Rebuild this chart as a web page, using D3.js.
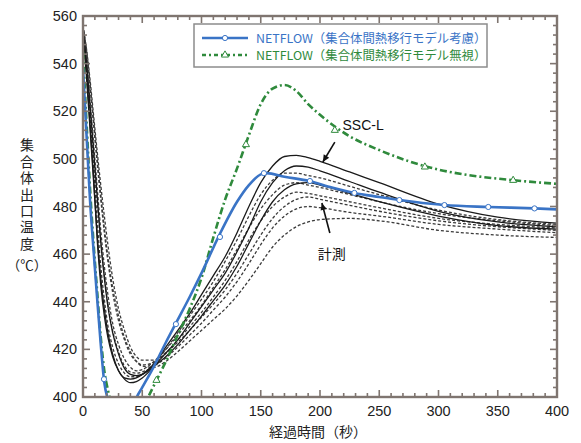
<!DOCTYPE html>
<html><head><meta charset="utf-8">
<script src="https://cdn.jsdelivr.net/npm/d3@7"></script>
<style>
body{margin:0;background:#fff;}
svg{display:block;}
text{font-family:"Liberation Sans","Noto Sans CJK JP",sans-serif;}
.jp{font-family:"Noto Sans CJK JP",sans-serif;}
</style></head>
<body><svg id="c" width="581" height="443"></svg>
<script>
// ---------- data ----------
const xTicks = [0,50,100,150,200,250,300,350,400];
const yTicks = [400,420,440,460,480,500,520,540,560];

const blueT = [0,3,6,9,12,15,18,21,25,30,35,40,45,50,60,70,78,90,100,115,130,140,150,155,170,191,210,229,250,267,305,342,381,400];
const blueV = [538,510,482,461,441,422,406,399,393,388,388,392,399.5,404,413,423,430.6,442,452,468,482,489,493.5,494,492.5,490.7,488,485.7,484,482.7,480.6,479.8,479.2,478.8];
const blueMarkT = [17.7,78.4,115.6,152.7,191.5,229,267,305,342,381];
const blueMarkV = [407.5,430.6,467.2,494,490.7,485.7,482.7,480.6,479.8,479.2];

const greenT = [0,3,6,9,12,15,18,21,24,30,35,40,45,50,55,60,70,80,90,100,110,120,130,140,150,160,170,180,190,200,225,250,275,300,325,350,375,400];
const greenV = [545,515,487,464,444,425,411,403,397,390,388,389,392,396,400,405,415,426,437,450,467,483,496,510,523,529.5,531,528.5,523,518.5,509.5,503.7,499,495.5,493.2,491.7,490.5,489.5];
const greenMarkT = [62,137.5,212.5,288.5,363];
const greenMarkV = [407,506,512,496.6,491];

const measT = [0,3,6,9,12,15,18,21,25,30,35,40,45,50,60,70,80,90,100,110,120,130,140,150,160,170,180,190,200,225,250,300,350,400];
// SSC-L (solid)
const sscS1 = [555,536,514,492,466,447,434,425,417,411,408,407.5,408,409.5,414,421,428,435,443,451,459,469,480,490,497,501,501.5,500.5,499,494.5,490,481,475.5,473];
const sscS2 = [553,534,512,490,468,450,437,427,418,411,407.5,406,406.5,408,413,418.5,424,431,438,445,452,461,471,482,490,495,497,496.5,495,490.5,486,478,473.5,471.5];
const sscS3 = [554,540,522,503,484,465,450,438,427,418,412,409.5,409,409.5,413,417,422,428,434,440.5,447,455,464.5,474,482,487,489.5,490,489,485.5,482,476,472,470.5];
// 計測 (dashed)
const measD1 = [556,538,517,496,474,455,441,430,421,414,410,408.5,408.5,409.5,414,420,427,434,441,448.5,457,466,476,485,491,494,494,493,492,488.5,485,478.5,474.5,472.5];
const measD2 = [555,541,524,506,488,470,455,443,431,422,416,412.5,411,411.5,415,420,426,432,438.5,446,453.5,462,471,479,485,489,490,489,488,485,482,477,474,472];
const measD3 = [556,545,530,514,498,483,469,457,444,432,424,418,415,413.5,414.5,418.5,424,429.5,435.5,442,449,457,466,474,480,484,486,485.5,484.5,482,479.5,475,472.5,471];
const measD4 = [555,546,533,518,503,489,476,464,450,437,428,421,417,415.5,415.5,418.5,423,428,433.5,439,445,452,460,468,475,480,483,484,483,480.5,478,474,471.5,470];
const measD5 = [554,539,520,501,482,465,451,439,428,419,413,410.5,410,410.5,413,416.5,421,426,431,436.5,442,448.5,456,464,471,476,479,480,479.5,477.5,476,472.5,470.5,469];
const measD6 = [556,545,531,516,500,485,471,459,446,434,425,419,415,413,412.5,415,419,423.5,428,432.5,437,442.5,449,456,463,468,471.5,473.5,474.5,475,474,470,468,467];

const legendLabels = ["NETFLOW（集合体間熱移行モデル考慮）","NETFLOW（集合体間熱移行モデル無視）"];
const yTitle = "集合体出口温度";

// ---------- drawing ----------
const svg = d3.select("#c");
const L=83,R=557,T=16,B=397;
const x = d3.scaleLinear().domain([0,400]).range([L,R]);
const y = d3.scaleLinear().domain([400,560]).range([B,T]);

svg.append("defs").append("clipPath").attr("id","clip")
  .append("rect").attr("x",L).attr("y",T).attr("width",R-L).attr("height",B-T);

const g = svg.append("g").attr("clip-path","url(#clip)");
const line = d3.line().x(d=>x(d[0])).y(d=>y(d[1])).curve(d3.curveMonotoneX);
const zip = (a,b)=>a.map((v,i)=>[v,b[i]]);

const measured = [measD1,measD2,measD3,measD4,measD5,measD6];
measured.forEach(s=>{
  g.append("path").attr("d",line(zip(measT,s))).attr("fill","none")
   .attr("stroke","#3a3a3a").attr("stroke-width",1.3).attr("stroke-dasharray","3,2");
});
[sscS3,sscS2,sscS1].forEach(s=>{
  g.append("path").attr("d",line(zip(measT,s))).attr("fill","none")
   .attr("stroke","#1a1a1a").attr("stroke-width",1.3);
});

const greenC="#2f8a3c", blueC="#3a74c6";
g.append("path").attr("d",line(zip(greenT,greenV))).attr("fill","none")
  .attr("stroke",greenC).attr("stroke-width",2.6).attr("stroke-dasharray","7,3,2,3");
g.selectAll(".gm").data(zip(greenMarkT,greenMarkV)).enter().append("path")
  .attr("transform",d=>`translate(${x(d[0])},${y(d[1])})`)
  .attr("d",d3.symbol(d3.symbolTriangle,22)).attr("fill","#fff").attr("stroke",greenC).attr("stroke-width",1);

g.append("path").attr("d",line(zip(blueT,blueV))).attr("fill","none")
  .attr("stroke",blueC).attr("stroke-width",2.6);
g.selectAll(".bm").data(zip(blueMarkT,blueMarkV)).enter().append("circle")
  .attr("cx",d=>x(d[0])).attr("cy",d=>y(d[1])).attr("r",2.6)
  .attr("fill","#fff").attr("stroke",blueC).attr("stroke-width",1);

// frame & ticks
const axC="#7f7570";
const ax = svg.append("g");
ax.append("rect").attr("x",L).attr("y",T).attr("width",R-L).attr("height",B-T)
  .attr("fill","none").attr("stroke",axC).attr("stroke-width",2.4);
const xMinor = d3.range(0,401,10), yMinor = d3.range(400,561,4);
xMinor.forEach(v=>{
  const len = v%50===0?7:4;
  ax.append("line").attr("x1",x(v)).attr("x2",x(v)).attr("y1",B).attr("y2",B-len).attr("stroke",axC).attr("stroke-width",1.6);
  ax.append("line").attr("x1",x(v)).attr("x2",x(v)).attr("y1",T).attr("y2",T+len).attr("stroke",axC).attr("stroke-width",1.6);
});
yMinor.forEach(v=>{
  const len = v%20===0?7:4;
  ax.append("line").attr("y1",y(v)).attr("y2",y(v)).attr("x1",L).attr("x2",L+len).attr("stroke",axC).attr("stroke-width",1.6);
  ax.append("line").attr("y1",y(v)).attr("y2",y(v)).attr("x1",R).attr("x2",R-len).attr("stroke",axC).attr("stroke-width",1.6);
});
// tick labels
svg.selectAll(".xl").data(xTicks).enter().append("text")
  .attr("x",d=>x(d)).attr("y",B+19).attr("text-anchor","middle")
  .attr("font-size",14.5).attr("fill","#222").text(d=>d);
svg.selectAll(".yl").data(yTicks).enter().append("text")
  .attr("x",L-6).attr("y",d=>y(d)+5).attr("text-anchor","end")
  .attr("font-size",14.5).attr("fill","#222").text(d=>d);

// axis titles
svg.append("text").attr("class","jp").attr("x",318).attr("y",437).attr("text-anchor","middle")
  .attr("font-size",14).attr("fill","#222").text("経過時間（秒）");
svg.append("text").attr("class","jp").attr("x",27).attr("y",138)
  .attr("style","writing-mode:vertical-rl;letter-spacing:2.4px")
  .attr("font-size",14).attr("fill","#222").text(yTitle);
svg.append("text").attr("class","jp").attr("x",27).attr("y",270).attr("text-anchor","middle")
  .attr("font-size",13.5).attr("fill","#222").text("（℃）");

// legend
const lg = svg.append("g");
lg.append("rect").attr("x",194).attr("y",24).attr("width",293).attr("height",43)
  .attr("fill","#fff").attr("stroke","#8c8c8c").attr("stroke-width",1.5);
[[blueC,null,38],[greenC,"7,3,2,3",55]].forEach((d,i)=>{
  const ln = lg.append("line").attr("x1",202).attr("x2",248).attr("y1",d[2]).attr("y2",d[2])
    .attr("stroke",d[0]).attr("stroke-width",2.6);
  if(d[1]) ln.attr("stroke-dasharray","4,3,2,3");
  if(i===0) lg.append("circle").attr("cx",225).attr("cy",d[2]).attr("r",2.6).attr("fill","#fff").attr("stroke",d[0]);
  else lg.append("path").attr("transform",`translate(225,${d[2]})`).attr("d",d3.symbol(d3.symbolTriangle,22)).attr("fill","#fff").attr("stroke",d[0]);
  lg.append("text").attr("class","jp").attr("x",256).attr("y",d[2]+4.5).attr("font-size",12.4)
    .attr("fill",d[0]).text(legendLabels[i]);
});

// annotations
function arrow(x0,y0,x1,y1){
  svg.append("line").attr("x1",x0).attr("y1",y0).attr("x2",x1).attr("y2",y1)
    .attr("stroke","#111").attr("stroke-width",1.6);
  const a=Math.atan2(y1-y0,x1-x0), s=7, w=3.2;
  const p=[[x1,y1],[x1-s*Math.cos(a)+w*Math.sin(a),y1-s*Math.sin(a)-w*Math.cos(a)],[x1-s*Math.cos(a)-w*Math.sin(a),y1-s*Math.sin(a)+w*Math.cos(a)]];
  svg.append("path").attr("d","M"+p.join("L")+"Z").attr("fill","#111");
}
arrow(x(212.5),y(507),x(202.4),y(498.7));
svg.append("text").attr("x",x(219)).attr("y",y(512)).attr("font-size",14).attr("fill","#111").text("SSC-L");
arrow(x(208.3),y(468.9),x(201.6),y(481.5));
svg.append("text").attr("class","jp").attr("x",x(210)).attr("y",y(458)).attr("text-anchor","middle")
  .attr("font-size",14).attr("fill","#111").text("計測");
</script></body></html>
